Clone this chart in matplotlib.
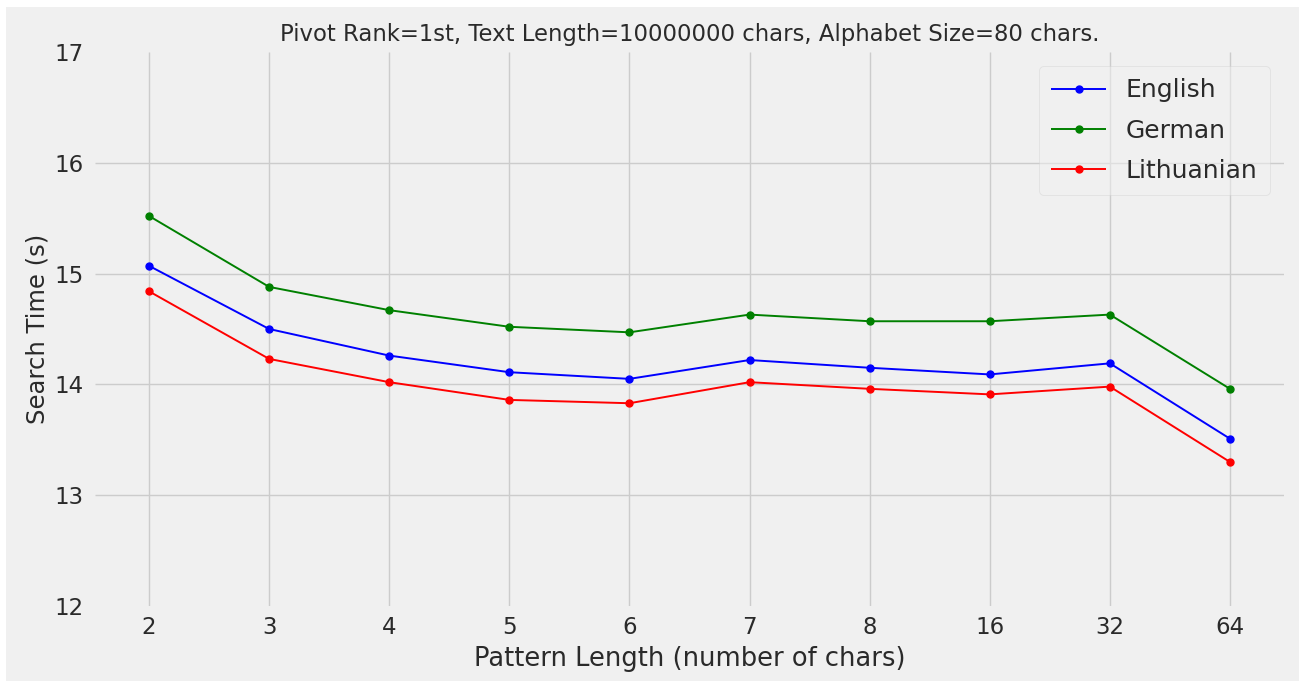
import matplotlib
matplotlib.use("Agg")
import matplotlib.pyplot as plt
from matplotlib.patches import Rectangle

plt.style.use("fivethirtyeight")

pattern_lengths = ["2", "3", "4", "5", "6", "7", "8", "16", "32", "64"]
english = [15.07, 14.50, 14.26, 14.11, 14.05, 14.22, 14.15, 14.09, 14.19, 13.51]
german = [15.52, 14.88, 14.67, 14.52, 14.47, 14.63, 14.57, 14.57, 14.63, 13.96]
lithuanian = [14.84, 14.23, 14.02, 13.86, 13.83, 14.02, 13.96, 13.91, 13.98, 13.30]

series = [("English", english, "blue"),
          ("German", german, "green"),
          ("Lithuanian", lithuanian, "red")]

text_color = "#2a2a2a"

fig = plt.figure(figsize=(13.08, 6.81), dpi=100, facecolor="white")
fig.patches.append(Rectangle((6 / 1308, 0), (1299 - 6) / 1308, (681 - 7) / 681,
                             transform=fig.transFigure, facecolor="#f0f0f0",
                             edgecolor="none", zorder=-10))
ax = fig.add_axes([95 / 1308, (681 - 606) / 681, (1284 - 95) / 1308, (606 - 52) / 681])
ax.set_facecolor("#f0f0f0")

for name, vals, color in series:
    ax.plot(pattern_lengths, vals, color=color, marker="o", markersize=5,
            linewidth=1.4, label=name)

ax.set_ylim(12, 17)
ax.set_yticks([12, 13, 14, 15, 16, 17])
ax.tick_params(axis="both", labelsize=16.5, labelcolor=text_color)
ax.tick_params(axis="x", pad=7)
ax.tick_params(axis="y", pad=8)
ax.set_xlabel("Pattern Length (number of chars)", fontsize=18.5, color=text_color,
              labelpad=5)
ax.set_ylabel("Search Time (s)", fontsize=17.5, color=text_color, labelpad=4)
ax.set_title("Pivot Rank=1st, Text Length=10000000 chars, Alphabet Size=80 chars.",
             fontsize=16.4, color=text_color, pad=8)
ax.grid(True, color="#cccccc", linewidth=1.0)
for s in ax.spines.values():
    s.set_visible(False)

# no horizontal gridlines along the top and bottom edges
ygl = ax.get_ygridlines()
ygl[0].set_visible(False)
ygl[-1].set_visible(False)

leg = ax.legend(loc="upper right", fontsize=18, framealpha=0.5,
                labelspacing=0.65, borderaxespad=0.55, handlelength=2.2,
                borderpad=0.5)
for t in leg.get_texts():
    t.set_color(text_color)

fig.savefig("out.png", dpi=100, facecolor=fig.get_facecolor())
